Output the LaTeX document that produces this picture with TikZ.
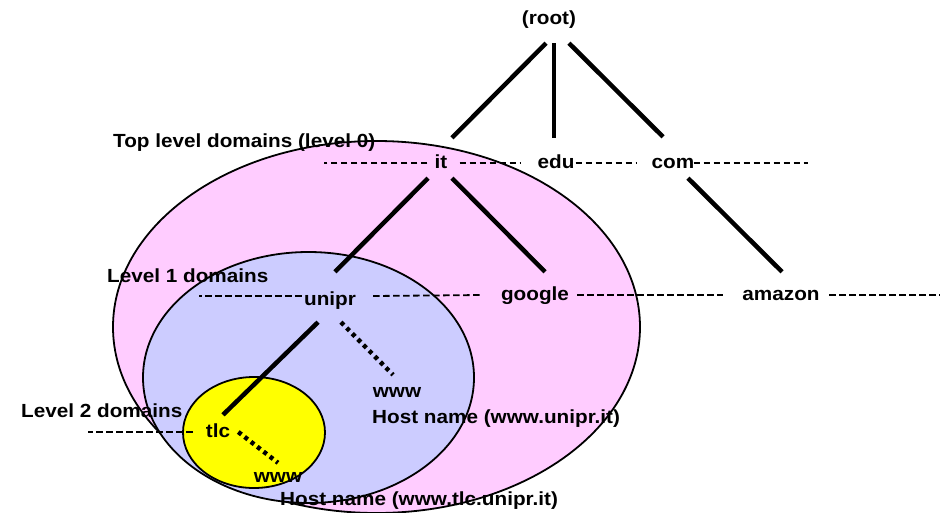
\documentclass[tikz,border=0pt]{standalone}
\usepackage{fontspec}
\setmainfont{Liberation Sans}[FakeStretch=1.09]
\usepackage{tikz}
\usetikzlibrary{calc,positioning}
\definecolor{tldpink}{RGB}{255,204,255}
\definecolor{lvlblue}{RGB}{204,204,255}
\definecolor{lvlyellow}{RGB}{255,255,0}

\begin{document}
\begin{tikzpicture}[x=1pt, y=-1pt,
    lbl/.style={font=\fontsize{19}{22}\selectfont\bfseries, inner sep=0pt, anchor=base, text height=14pt, text depth=4pt},
    tree/.style={line width=4.5pt},
    hostline/.style={line width=4.5pt, dash pattern=on 4pt off 4pt},
    levelline/.style={line width=1.8pt, dash pattern=on 6.5pt off 3.5pt},
    zone/.style={draw, line width=1.8pt}]
    \useasboundingbox (0,0) rectangle (947,512);

    % domain zones
    \path[zone, fill=tldpink] (376.5,327) ellipse [x radius=263.5pt, y radius=186pt];
    \path[zone, fill=lvlblue] (308.5,377.5) ellipse [x radius=165.5pt, y radius=125.5pt];
    \path[zone, fill=lvlyellow] (254,432.5) ellipse [x radius=71pt, y radius=55.5pt];

    \node[lbl] (root) at (549,24) {(root)};
    \node[lbl] (it) at (441,168) {it};
    \node[lbl] (edu) at (556,168) {edu};
    \node[lbl] (com) at (673,168) {com};
    \node[lbl] (unipr) at (330,305) {unipr};
    \node[lbl] (google) at (535,300) {google};
    \node[lbl] (amazon) at (781,300) {amazon};
    \node[lbl] (tlc) at (218,437) {tlc};
    \node[lbl] (www1) at (397,397) {www};
    \node[lbl] (www2) at (278,482) {www};

    \node[lbl, anchor=base west] (lev0) at (113,147) {Top level domains (level 0)};
    \node[lbl, anchor=base west] (lev1) at (107,282) {Level 1 domains};
    \node[lbl, anchor=base west] (lev2) at (21,417) {Level 2 domains};
    \node[lbl, anchor=base west] (host1) at (372,423) {Host name (www.unipr.it)};
    \node[lbl, anchor=base west] (host2) at (280,505) {Host name (www.tlc.unipr.it)};

    % tree
    \draw[tree] ($(root.south)+(-3,15)$) -- ($(it.north)+(11,-16)$);
    \draw[tree] ($(root.south)+(5,15)$) -- ($(edu.north)+(-2,-16)$);
    \draw[tree] ($(root.south)+(20,15)$) -- ($(com.north)+(-10,-17)$);
    \draw[tree] ($(it.south)+(-13,6)$) -- ($(unipr.north)+(5,-19)$);
    \draw[tree] ($(it.south)+(11,6)$) -- ($(google.north)+(10,-14)$);
    \draw[tree] ($(com.south)+(15,6)$) -- ($(amazon.north)+(1,-14)$);
    \draw[tree] ($(unipr.south)+(-12,13)$) -- ($(tlc.north)+(5,-8)$);
    \draw[hostline] ($(unipr.south)+(11,13)$) -- ($(www1.north)+(-4,-8)$);
    \draw[hostline] ($(tlc.east)+(8,0)$) -- ($(www2.north)+(0,-5)$);

    % levels
    \draw[levelline] ($(it.west)+(-7,0)$) -- ++(-103,0);
    \draw[levelline] ($(it.east)+(12,0)$) -- ($(edu.west)+(-16,0)$);
    \draw[levelline] ($(edu.east)+(1,0)$) -- ($(com.west)+(-15,0)$);
    \draw[levelline] ($(com.east)+(-1,0)$) -- ++(114,0);
    \draw[levelline] ($(unipr.west)+(-2,-4)$) -- ++(-103,0);
    \draw[levelline] ($(unipr.east)+(17,-4)$) -- ($(google.west)+(-18,0)$);
    \draw[levelline] ($(google.east)+(8,0)$) -- ($(amazon.west)+(-19.5,0)$);
    \draw[levelline] ($(amazon.east)+(9.5,0)$) -- ++(111,0);
    \draw[levelline] ($(tlc.west)+(-13,0)$) -- ++(-105,0);
\end{tikzpicture}
\end{document}
